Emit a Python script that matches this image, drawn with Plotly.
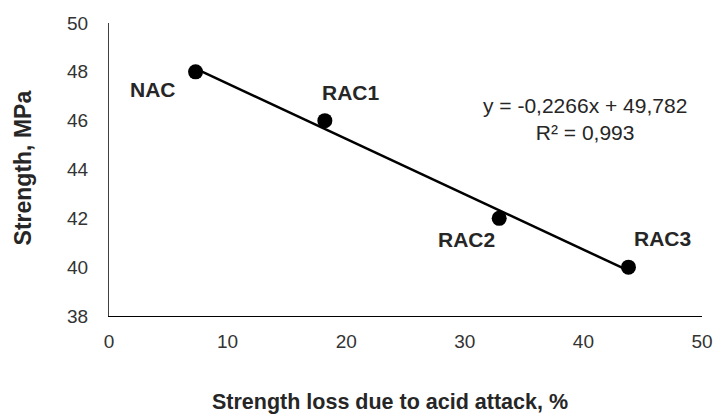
import plotly.graph_objects as go

# Concrete mixes: strength loss after acid attack vs. compressive strength
mixes = ["NAC", "RAC1", "RAC2", "RAC3"]
strength_loss = [7.3, 18.2, 32.9, 43.8]   # %
strength = [48, 46, 42, 40]               # MPa

# Linear trendline coefficients (shown in the equation label)
slope = -0.2266
intercept = 49.782
r_squared = 0.993

# Label offsets (pixels) relative to each point
label_dx = [-43, 26, -33, 34]
label_dy = [-18, 28, -21, 29]

FONT = "Liberation Sans, Arial, sans-serif"

fig = go.Figure()

# Trendline across the data range
x_fit = [min(strength_loss), max(strength_loss)]
y_fit = [slope * x + intercept for x in x_fit]
fig.add_trace(go.Scatter(
    x=x_fit, y=y_fit, mode="lines",
    line=dict(color="black", width=2.5),
    hoverinfo="skip", showlegend=False,
))

# Measured points
fig.add_trace(go.Scatter(
    x=strength_loss, y=strength, mode="markers",
    marker=dict(color="black", size=15),
    text=mixes, showlegend=False,
))

# Mix labels
for name, x, y, dx, dy in zip(mixes, strength_loss, strength, label_dx, label_dy):
    fig.add_annotation(
        x=x, y=y, xref="x", yref="y", text=f"<b>{name}</b>",
        showarrow=False, xshift=dx, yshift=dy,
        xanchor="center", yanchor="middle",
        font=dict(family=FONT, size=21, color="#262626"),
    )

# Trendline equation
eq_text = (f"y = {slope:.4f}x + {intercept:.3f}".replace(".", ",")
           + "<br>" + f"R² = {r_squared:.3f}".replace(".", ","))
fig.add_annotation(
    x=(593 - 109) / 603, y=(316 - 119) / 293, xref="paper", yref="paper",
    text=eq_text, showarrow=False, align="center",
    xanchor="center", yanchor="middle",
    font=dict(family=FONT, size=21, color="#262626"),
)

# Axis titles
fig.add_annotation(
    x=(395 - 109) / 603, y=(316 - 402) / 293, xref="paper", yref="paper",
    text="<b>Strength loss due to acid attack, %</b>", showarrow=False,
    xanchor="center", yanchor="middle",
    font=dict(family=FONT, size=21.5, color="#262626"),
)
fig.add_annotation(
    x=(22 - 109) / 603, y=(316 - 168) / 293, xref="paper", yref="paper",
    text="<b>Strength, MPa</b>", showarrow=False, textangle=-90,
    xanchor="center", yanchor="middle",
    font=dict(family=FONT, size=23, color="#262626"),
)

fig.update_layout(
    width=725, height=416,
    margin=dict(l=109, r=13, t=23, b=100),
    paper_bgcolor="white", plot_bgcolor="white",
    font=dict(family=FONT, size=19, color="#333333"),
)
fig.update_xaxes(
    range=[0, 50], tickvals=[0, 10, 20, 30, 40, 50],
    showgrid=False, zeroline=False,
    showline=True, linecolor="black", linewidth=1,
    ticks="", ticklabelstandoff=8,
    tickfont=dict(family=FONT, size=19, color="#333333"),
)
fig.update_yaxes(
    range=[38, 50], tickvals=[38, 40, 42, 44, 46, 48, 50],
    showgrid=False, zeroline=False,
    showline=True, linecolor="#404040", linewidth=1,
    ticks="", ticklabelstandoff=16,
    tickfont=dict(family=FONT, size=19, color="#333333"),
)

fig.write_html("out.html")
